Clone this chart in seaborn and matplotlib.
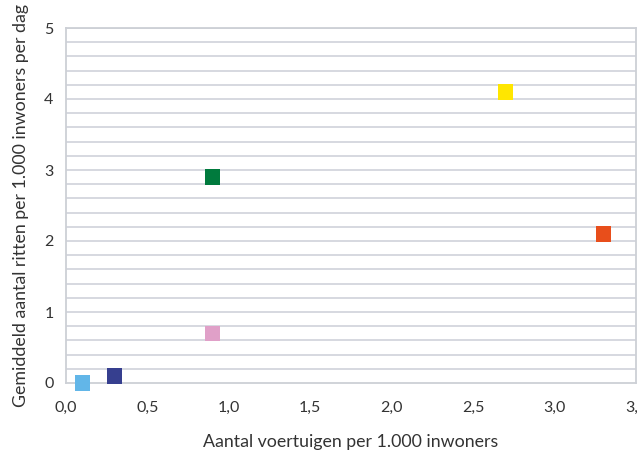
import pandas as pd
import matplotlib.pyplot as plt
import seaborn as sns
from matplotlib.ticker import MultipleLocator, FuncFormatter

# Data
groepen = ['A', 'B', 'C', 'D', 'E', 'F']
voertuigen = [0.1, 0.3, 0.9, 0.9, 2.7, 3.3]
ritten = [0.0, 0.1, 0.7, 2.9, 4.1, 2.1]
kleuren = ['#62b6e8', '#363f8f', '#e0a0c8', '#007a3d', '#ffe600', '#e84e1b']

df = pd.DataFrame({'groep': groepen, 'x': voertuigen, 'y': ritten})

sns.set_style('white')
plt.rcParams['font.family'] = ['Lato', 'DejaVu Sans']

fig = plt.figure(figsize=(6.37, 4.55), dpi=100)
ax = fig.add_axes([66 / 637, 72 / 455, 570 / 637, 355 / 455])

# horizontal grid every 0.2
for v in [i * 0.2 for i in range(1, 26)]:
    ax.axhline(v, color='#d3d6dd', lw=1.3, zorder=0)

sns.scatterplot(data=df, x='x', y='y', hue='groep', palette=kleuren,
                marker='s', s=120, linewidth=0, legend=False, ax=ax, zorder=3,
                clip_on=False)

ax.set_xlim(0, 3.5)
ax.set_ylim(0, 5)
ax.xaxis.set_major_locator(MultipleLocator(0.5))
ax.yaxis.set_major_locator(MultipleLocator(1))
ax.xaxis.set_major_formatter(FuncFormatter(lambda v, p: f'{v:.1f}'.replace('.', ',')))
ax.yaxis.set_major_formatter(FuncFormatter(lambda v, p: f'{v:.0f}'))

for side in ['left', 'right', 'bottom', 'top']:
    ax.spines[side].set_color('#cdd0d6')
    ax.spines[side].set_linewidth(1.3)

ax.tick_params(axis='x', direction='in', length=9, width=1.2, color='#cdd0d6',
               labelsize=11.5, labelcolor='#333333', pad=13)
ax.tick_params(axis='y', length=0, labelsize=11.5, labelcolor='#333333', pad=9)

ax.set_xlabel('Aantal voertuigen per 1.000 inwoners', fontsize=12.8, color='#333333', labelpad=14)
ax.set_ylabel('Gemiddeld aantal ritten per 1.000 inwoners per dag', fontsize=12.8,
              color='#333333', labelpad=11)

fig.savefig('out.png', dpi=100)
